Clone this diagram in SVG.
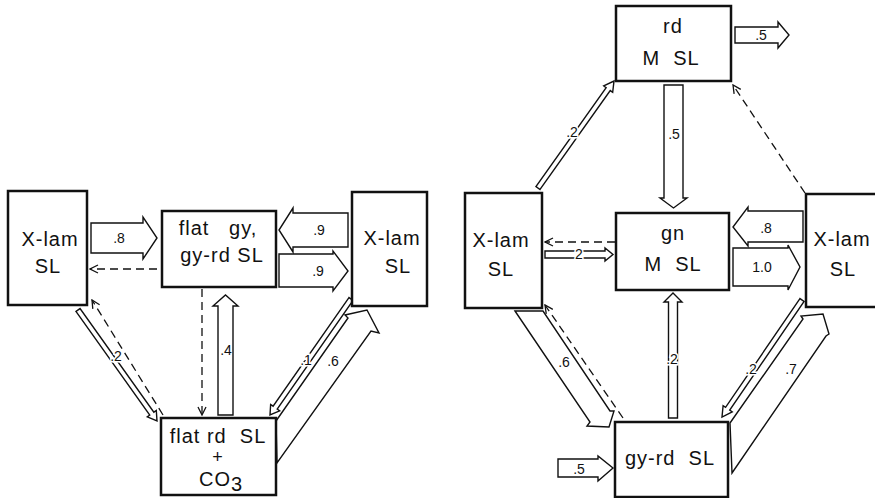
<svg xmlns="http://www.w3.org/2000/svg" width="875" height="498" viewBox="0 0 875 498">
<style>
.box{fill:#fff;stroke:#111;stroke-width:2.5}
.t{font-family:"Liberation Sans",Arial,sans-serif;font-size:20px;letter-spacing:1px;fill:#111;text-anchor:middle}
.lbl{font-family:"Liberation Sans",Arial,sans-serif;font-size:14px;fill:#111;text-anchor:middle}
.halo{stroke:#fff;stroke-width:3;paint-order:stroke}
.ha{fill:#fff;stroke:#111;stroke-width:1.4;stroke-linejoin:miter}
.dash{fill:none;stroke:#111;stroke-width:1.3;stroke-dasharray:8 5;marker-end:url(#v)}
</style>
<defs>
<marker id="v" viewBox="0 0 10 10" refX="9" refY="5" markerWidth="10" markerHeight="10" markerUnits="userSpaceOnUse" orient="auto">
<path d="M1,1 L9,5 L1,9" fill="none" stroke="#111" stroke-width="1.3" stroke-dasharray="none"/>
</marker>
</defs>
<rect width="875" height="498" fill="#fff"/>

<g id="connectors">
<!-- left diagram -->
<polygon class="ha" points="91,223 143,223 143,217 157,238 143,259 143,253 91,253"/>
<line class="dash" x1="157" y1="269" x2="90" y2="269"/>
<polygon class="ha" points="348,213 293,213 293,208 279,230 293,252 293,247 348,247"/>
<polygon class="ha" points="279,254 333,254 333,251 348,271 333,291 333,287 279,287"/>
<polygon class="ha" points="75.95,311.44 149.75,415.04 147.3,416.77 157,421 156.3,410.43 153.85,412.16 80.05,308.56"/>
<line class="dash" x1="163" y1="415" x2="92" y2="300"/>
<line class="dash" x1="202" y1="289" x2="202" y2="415"/>
<polygon class="ha" points="218,415 218,306 213,306 225.5,295 238,306 233,306 233,415"/>
<polygon class="ha" points="348.95,297.57 273.1,406.19 270.64,404.47 270,415 279.66,410.77 277.2,409.05 353.05,300.43"/>
<polygon class="ha" points="276,421 348,318 345,315 367,310 379,333 371,331 277,463"/>
<!-- right diagram -->
<polygon class="ha" points="735,27 778,27 778,22 789,35 778,48 778,43 735,43"/>
<polygon class="ha" points="664,85 683,85 683,198 687,198 673.5,208 660,198 664,198"/>
<polygon class="ha" points="540.04,189.45 610.24,90.6 612.68,92.33 614,81 603.72,85.97 606.16,87.7 535.96,186.55"/>
<line class="dash" x1="805" y1="193" x2="733" y2="85"/>
<line class="dash" x1="615" y1="242" x2="545" y2="242"/>
<polygon class="ha" points="545,251 605,251 605,248 613,254.5 605,261 605,258 545,258"/>
<polygon class="ha" points="803,211 748,211 748,207 733,227 748,246 748,242 803,242"/>
<polygon class="ha" points="733,248 788,248 788,245 800,267 788,290 788,286 733,286"/>
<polygon class="ha" points="668.5,418 668.5,302 664,302 673,293 682,302 677.5,302 677.5,418"/>
<polygon class="ha" points="515,311 590,422 587,426 609,427 614,411 610,411 543,311"/>
<line class="dash" x1="623" y1="418" x2="545" y2="305"/>
<polygon class="ha" points="799.93,298.59 725.58,407.33 723.11,405.63 722,417 732.19,411.85 729.72,410.15 804.07,301.41"/>
<polygon class="ha" points="730,423 803,319 801,316 823,314 829,334 826,336 732,473"/>
<polygon class="ha" points="558,459 598,459 598,456 613,468 598,481 598,477 558,477"/>
<!-- labels -->
<text class="lbl" x="119" y="243">.8</text>
<text class="lbl" x="319" y="235">.9</text>
<text class="lbl" x="318" y="276">.9</text>
<text class="lbl halo" x="116" y="361">.2</text>
<text class="lbl" x="226" y="355">.4</text>
<text class="lbl halo" x="306" y="365">.1</text>
<text class="lbl" x="333" y="366">.6</text>
<text class="lbl halo" x="572" y="137">.2</text>
<text class="lbl" x="674" y="139">.5</text>
<text class="lbl" x="761" y="40">.5</text>
<text class="lbl halo" x="579" y="259">2</text>
<text class="lbl" x="766" y="233">.8</text>
<text class="lbl" x="762" y="272">1.0</text>
<text class="lbl halo" x="672" y="364">.2</text>
<text class="lbl" x="564" y="367">.6</text>
<text class="lbl halo" x="751" y="374">.2</text>
<text class="lbl" x="791" y="374">.7</text>
<text class="lbl" x="579" y="474">.5</text>
</g>

<g id="xlam-left-1">
<rect class="box" x="8" y="191" width="79" height="114"/>
<text class="t" x="50" y="246">X-lam</text>
<text class="t" x="48" y="273">SL</text>
</g>
<g id="flat-gy">
<rect class="box" x="162" y="211" width="114" height="76"/>
<text class="t" x="218" y="235" xml:space="preserve">flat   gy,</text>
<text class="t" x="222" y="262">gy-rd SL</text>
</g>
<g id="xlam-right-1">
<rect class="box" x="352" y="192" width="75" height="114"/>
<text class="t" x="392" y="245">X-lam</text>
<text class="t" x="398" y="273">SL</text>
</g>
<g id="flat-rd">
<rect class="box" x="161" y="418" width="115" height="77"/>
<text class="t" x="218" y="443" xml:space="preserve">flat rd  SL</text>
<text class="t" x="218" y="463" style="font-size:18px">+</text>
<text class="t" x="221" y="486">CO<tspan dy="5">3</tspan></text>
</g>

<g id="rd-msl">
<rect class="box" x="616" y="6" width="115" height="75"/>
<text class="t" x="673" y="33">rd</text>
<text class="t" x="671" y="65" xml:space="preserve">M  SL</text>
</g>
<g id="xlam-left-2">
<rect class="box" x="465" y="193" width="77" height="115"/>
<text class="t" x="501" y="247">X-lam</text>
<text class="t" x="501" y="276">SL</text>
</g>
<g id="gn-msl">
<rect class="box" x="616" y="213" width="113" height="77"/>
<text class="t" x="673" y="240">gn</text>
<text class="t" x="673" y="271" xml:space="preserve">M  SL</text>
</g>
<g id="xlam-right-2">
<rect class="box" x="806" y="194" width="80" height="113"/>
<text class="t" x="842" y="246">X-lam</text>
<text class="t" x="843" y="276">SL</text>
</g>
<g id="gy-rd">
<rect class="box" x="615" y="422" width="113" height="75"/>
<text class="t" x="670" y="465" xml:space="preserve">gy-rd  SL</text>
</g>
</svg>
